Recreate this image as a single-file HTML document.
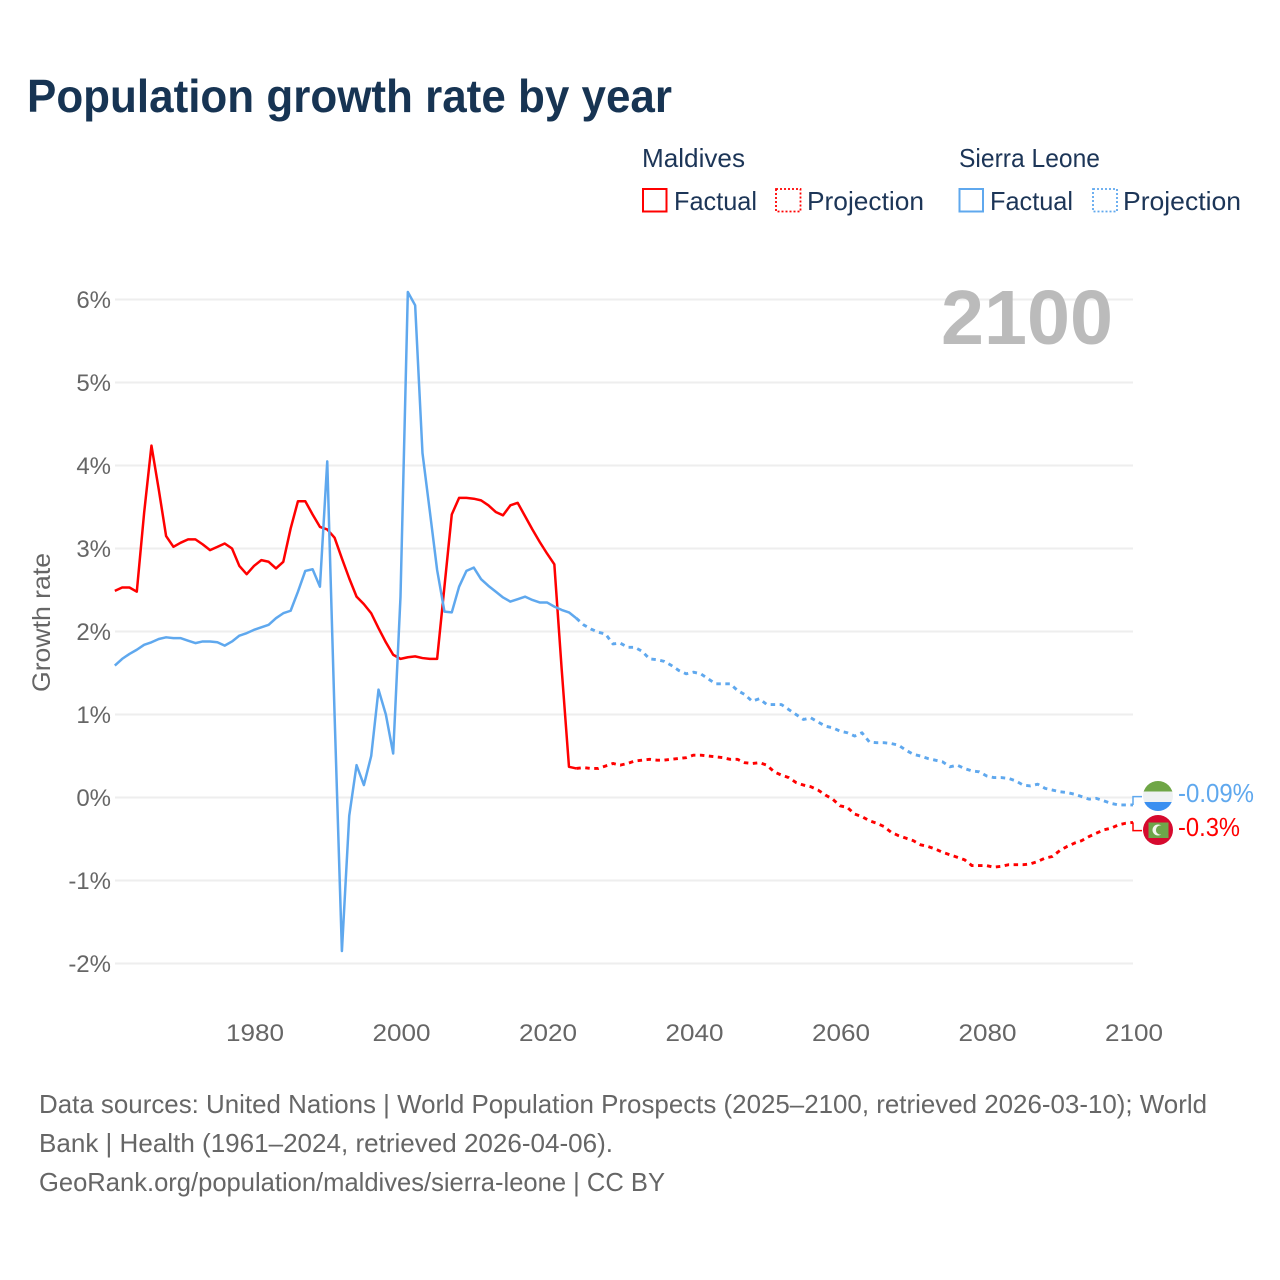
<!DOCTYPE html>
<html lang="en">
<head>
<meta charset="utf-8">
<title>Population growth rate by year</title>
<style>
html,body{margin:0;padding:0;background:#fff;width:1280px;height:1280px;overflow:hidden}
svg{display:block}
text{font-family:"Liberation Sans",sans-serif}
</style>
</head>
<body>
<svg id="chart" xmlns="http://www.w3.org/2000/svg" width="1280" height="1280" viewBox="0 0 1280 1280">
  <defs>
    <clipPath id="flag-clip-sl"><circle id="clip-sl" cx="1158" cy="796" r="15"/></clipPath>
    <clipPath id="flag-clip-mv"><circle id="clip-mv" cx="1158" cy="830" r="15"/></clipPath>
  </defs>
  <rect x="0" y="0" width="1280" height="1280" fill="#fff"/>
  <text x="27" y="112" font-size="46" font-weight="700" fill="#173453" textLength="645" lengthAdjust="spacingAndGlyphs">Population growth rate by year</text>

  <g font-size="26" fill="#1c3557">
    <text x="642" y="167" textLength="103" lengthAdjust="spacingAndGlyphs">Maldives</text>
    <text x="959" y="167" textLength="141" lengthAdjust="spacingAndGlyphs">Sierra Leone</text>
    <rect x="643" y="189" width="23.5" height="22.5" fill="none" stroke="#ff0000" stroke-width="2"/>
    <text x="674" y="210" textLength="83" lengthAdjust="spacingAndGlyphs">Factual</text>
    <rect x="776" y="189" width="24.5" height="22.5" fill="none" stroke="#ff0000" stroke-width="1.8" stroke-dasharray="2 2"/>
    <text x="807" y="210" textLength="117" lengthAdjust="spacingAndGlyphs">Projection</text>
    <rect x="959.5" y="189" width="23.5" height="22.5" fill="none" stroke="#5fa8ee" stroke-width="2"/>
    <text x="990" y="210" textLength="83" lengthAdjust="spacingAndGlyphs">Factual</text>
    <rect x="1093" y="189" width="24" height="22.5" fill="none" stroke="#5fa8ee" stroke-width="1.8" stroke-dasharray="2 2"/>
    <text x="1123" y="210" textLength="118" lengthAdjust="spacingAndGlyphs">Projection</text>
  </g>

  <g id="grid"></g>
  <g id="y-ticks" font-size="24" fill="#666"></g>
  <g id="x-ticks" font-size="24" fill="#666"></g>
  <text transform="translate(50,622.5) rotate(-90)" text-anchor="middle" font-size="25" fill="#666" textLength="139" lengthAdjust="spacingAndGlyphs">Growth rate</text>

  <text x="941" y="344" font-size="77" font-weight="700" fill="#bbbbbb" textLength="172" lengthAdjust="spacingAndGlyphs">2100</text>

  <g id="series"></g>

  <g id="flag-sl" clip-path="url(#flag-clip-sl)">
    <rect x="1143" y="781" width="30" height="11" fill="#6fa646"/>
    <rect x="1143" y="791.5" width="30" height="11" fill="#eef1f2"/>
    <rect x="1143" y="802" width="30" height="9" fill="#3a8ff0"/>
  </g>
  <g id="flag-mv" clip-path="url(#flag-clip-mv)">
    <rect x="1143" y="815" width="30" height="30" fill="#d60a2e"/>
    <rect x="1148.5" y="822.5" width="20" height="15.5" fill="#6ea64a"/>
    <circle cx="1158" cy="830" r="5.5" fill="#f4f6ee"/>
    <circle cx="1160.5" cy="830" r="4.6" fill="#6ea64a"/>
  </g>
  <text id="end-label-sl" x="1178" y="802" font-size="26" fill="#5fa8ee" textLength="76" lengthAdjust="spacingAndGlyphs"></text>
  <text id="end-label-mv" x="1178" y="836" font-size="26" fill="#ff0000" textLength="62" lengthAdjust="spacingAndGlyphs"></text>

  <g font-size="26" fill="#666">
    <text x="39" y="1113" textLength="1168" lengthAdjust="spacingAndGlyphs">Data sources: United Nations | World Population Prospects (2025–2100, retrieved 2026-03-10); World</text>
    <text x="39" y="1152" textLength="574" lengthAdjust="spacingAndGlyphs">Bank | Health (1961–2024, retrieved 2026-04-06).</text>
    <text x="39" y="1191" textLength="626" lengthAdjust="spacingAndGlyphs">GeoRank.org/population/maldives/sierra-leone | CC BY</text>
  </g>
</svg>
<script>
const firstFactualYear = 1961;
const firstProjectionYear = 2024;
const yTickValues = [6, 5, 4, 3, 2, 1, 0, -1, -2];
const xTickYears = [1980, 2000, 2020, 2040, 2060, 2080, 2100];
const maldivesFactual = [
  2.49,2.53,2.53,2.48,3.43,4.24,3.71,3.15,3.02,3.07,
  3.11,3.11,3.05,2.98,3.02,3.06,3.00,2.79,2.69,2.79,
  2.86,2.84,2.76,2.84,3.24,3.57,3.57,3.41,3.26,3.23,
  3.13,2.88,2.64,2.42,2.33,2.22,2.04,1.87,1.72,1.67,
  1.69,1.70,1.68,1.67,1.67,2.54,3.41,3.61,3.61,3.60,
  3.58,3.52,3.44,3.40,3.52,3.55,3.39,3.23,3.08,2.94,
  2.81,1.55,0.37,0.35
];
const sierraLeoneFactual = [
  1.59,1.67,1.73,1.78,1.84,1.87,1.91,1.93,1.92,1.92,
  1.89,1.86,1.88,1.88,1.87,1.83,1.88,1.95,1.98,2.02,
  2.05,2.08,2.16,2.22,2.25,2.48,2.73,2.75,2.54,4.05,
  1.00,-1.85,-0.22,0.39,0.15,0.50,1.30,1.00,0.53,2.42,
  6.09,5.93,4.15,3.45,2.74,2.24,2.23,2.54,2.73,2.77,
  2.63,2.55,2.48,2.41,2.36,2.39,2.42,2.38,2.35,2.35,
  2.30,2.26,2.23,2.16
];
const maldivesProjection = [
  0.35,0.36,0.35,0.35,0.38,0.41,0.39,0.41,0.44,0.45,
  0.46,0.45,0.45,0.46,0.47,0.48,0.51,0.51,0.50,0.49,
  0.48,0.46,0.46,0.42,0.41,0.42,0.39,0.31,0.27,0.24,
  0.18,0.15,0.13,0.09,0.03,-0.02,-0.10,-0.12,-0.20,-0.23,
  -0.28,-0.31,-0.35,-0.42,-0.46,-0.49,-0.52,-0.57,-0.59,-0.62,
  -0.66,-0.69,-0.72,-0.75,-0.82,-0.82,-0.82,-0.84,-0.83,-0.81,
  -0.81,-0.81,-0.80,-0.77,-0.73,-0.71,-0.64,-0.59,-0.55,-0.52,
  -0.47,-0.43,-0.39,-0.37,-0.33,-0.31,-0.30
];
const sierraLeoneProjection = [
  2.16,2.08,2.03,1.99,1.97,1.85,1.86,1.81,1.81,1.76,
  1.67,1.66,1.64,1.59,1.53,1.49,1.51,1.49,1.43,1.37,
  1.37,1.37,1.29,1.24,1.16,1.19,1.12,1.12,1.12,1.06,
  1.00,0.94,0.96,0.91,0.86,0.84,0.80,0.78,0.74,0.78,
  0.67,0.66,0.66,0.65,0.63,0.57,0.52,0.50,0.47,0.45,
  0.43,0.37,0.39,0.35,0.32,0.31,0.26,0.24,0.24,0.23,
  0.20,0.15,0.14,0.16,0.11,0.09,0.07,0.06,0.04,0.01,
  -0.02,-0.01,-0.04,-0.07,-0.09,-0.09,-0.09
];
const endLabelSierraLeone = '-0.09%';
const endLabelMaldives = '-0.3%';

const SVG_NS = 'http://www.w3.org/2000/svg';
const BLUE = '#5fa8ee';
const RED = '#ff0000';
function xScale(year) { return 254 + (year - 1980) * 7.325; }
function yScale(value) { return 797.5 - value * 83; }
function pointsFrom(values, startYear) {
  return values.map(function (v, i) {
    return xScale(startYear + i).toFixed(2) + ',' + yScale(v).toFixed(2);
  }).join(' ');
}
function makeLine(parent, values, startYear, color, dashed, name) {
  const line = document.createElementNS(SVG_NS, 'polyline');
  
  
  line.setAttribute('points', pointsFrom(values, startYear));
  line.setAttribute('fill', 'none');
  line.setAttribute('stroke', color);
  line.setAttribute('stroke-width', dashed ? '2.9' : '2.5');
  line.setAttribute('stroke-linejoin', 'round');
  if (dashed) { line.setAttribute('stroke-dasharray', '4.5 4.5'); }
  parent.appendChild(line);
}

const grid = document.getElementById('grid');
const yTicksGroup = document.getElementById('y-ticks');
yTickValues.forEach(function (v) {
  const g = document.createElementNS(SVG_NS, 'line');
  
  
  g.setAttribute('x1', 115);
  g.setAttribute('x2', 1133);
  g.setAttribute('y1', yScale(v));
  g.setAttribute('y2', yScale(v));
  g.setAttribute('stroke', '#eeeeee');
  g.setAttribute('stroke-width', '2');
  grid.appendChild(g);
  const t = document.createElementNS(SVG_NS, 'text');
  
  
  t.setAttribute('x', 111);
  t.setAttribute('y', yScale(v) + 8.5);
  t.setAttribute('text-anchor', 'end');
  t.textContent = v + '%';
  yTicksGroup.appendChild(t);
});
const xTicksGroup = document.getElementById('x-ticks');
xTickYears.forEach(function (yr) {
  const t = document.createElementNS(SVG_NS, 'text');
  
  
  t.setAttribute('x', xScale(yr) + 1);
  t.setAttribute('y', 1041);
  t.setAttribute('text-anchor', 'middle');
  t.setAttribute('textLength', '58');
  t.setAttribute('lengthAdjust', 'spacingAndGlyphs');
  t.textContent = yr;
  xTicksGroup.appendChild(t);
});

const series = document.getElementById('series');
makeLine(series, maldivesFactual, firstFactualYear, RED, false, 'maldives-factual-line');
makeLine(series, sierraLeoneFactual, firstFactualYear, BLUE, false, 'sierra-leone-factual-line');
makeLine(series, maldivesProjection, firstProjectionYear, RED, true, 'maldives-projection-line');
makeLine(series, sierraLeoneProjection, firstProjectionYear, BLUE, true, 'sierra-leone-projection-line');

const blueEndY = yScale(sierraLeoneProjection[sierraLeoneProjection.length - 1]);
const redEndY = yScale(maldivesProjection[maldivesProjection.length - 1]);
const midEndY = (blueEndY + redEndY) / 2;
const blueFlagY = midEndY - 17;
const redFlagY = midEndY + 17;
function makeLeader(startY, endY, color, name) {
  const p = document.createElementNS(SVG_NS, 'path');
  
  
  p.setAttribute('d', 'M' + xScale(2100) + ' ' + startY + ' V' + endY + ' H1142');
  p.setAttribute('fill', 'none');
  p.setAttribute('stroke', color);
  p.setAttribute('stroke-width', '1.5');
  series.appendChild(p);
}
makeLeader(blueEndY, blueFlagY, BLUE, 'sierra-leone-leader-line');
makeLeader(redEndY, redFlagY, RED, 'maldives-leader-line');
document.getElementById('end-label-sl').textContent = endLabelSierraLeone;
document.getElementById('end-label-mv').textContent = endLabelMaldives;
</script>
</body>
</html>
